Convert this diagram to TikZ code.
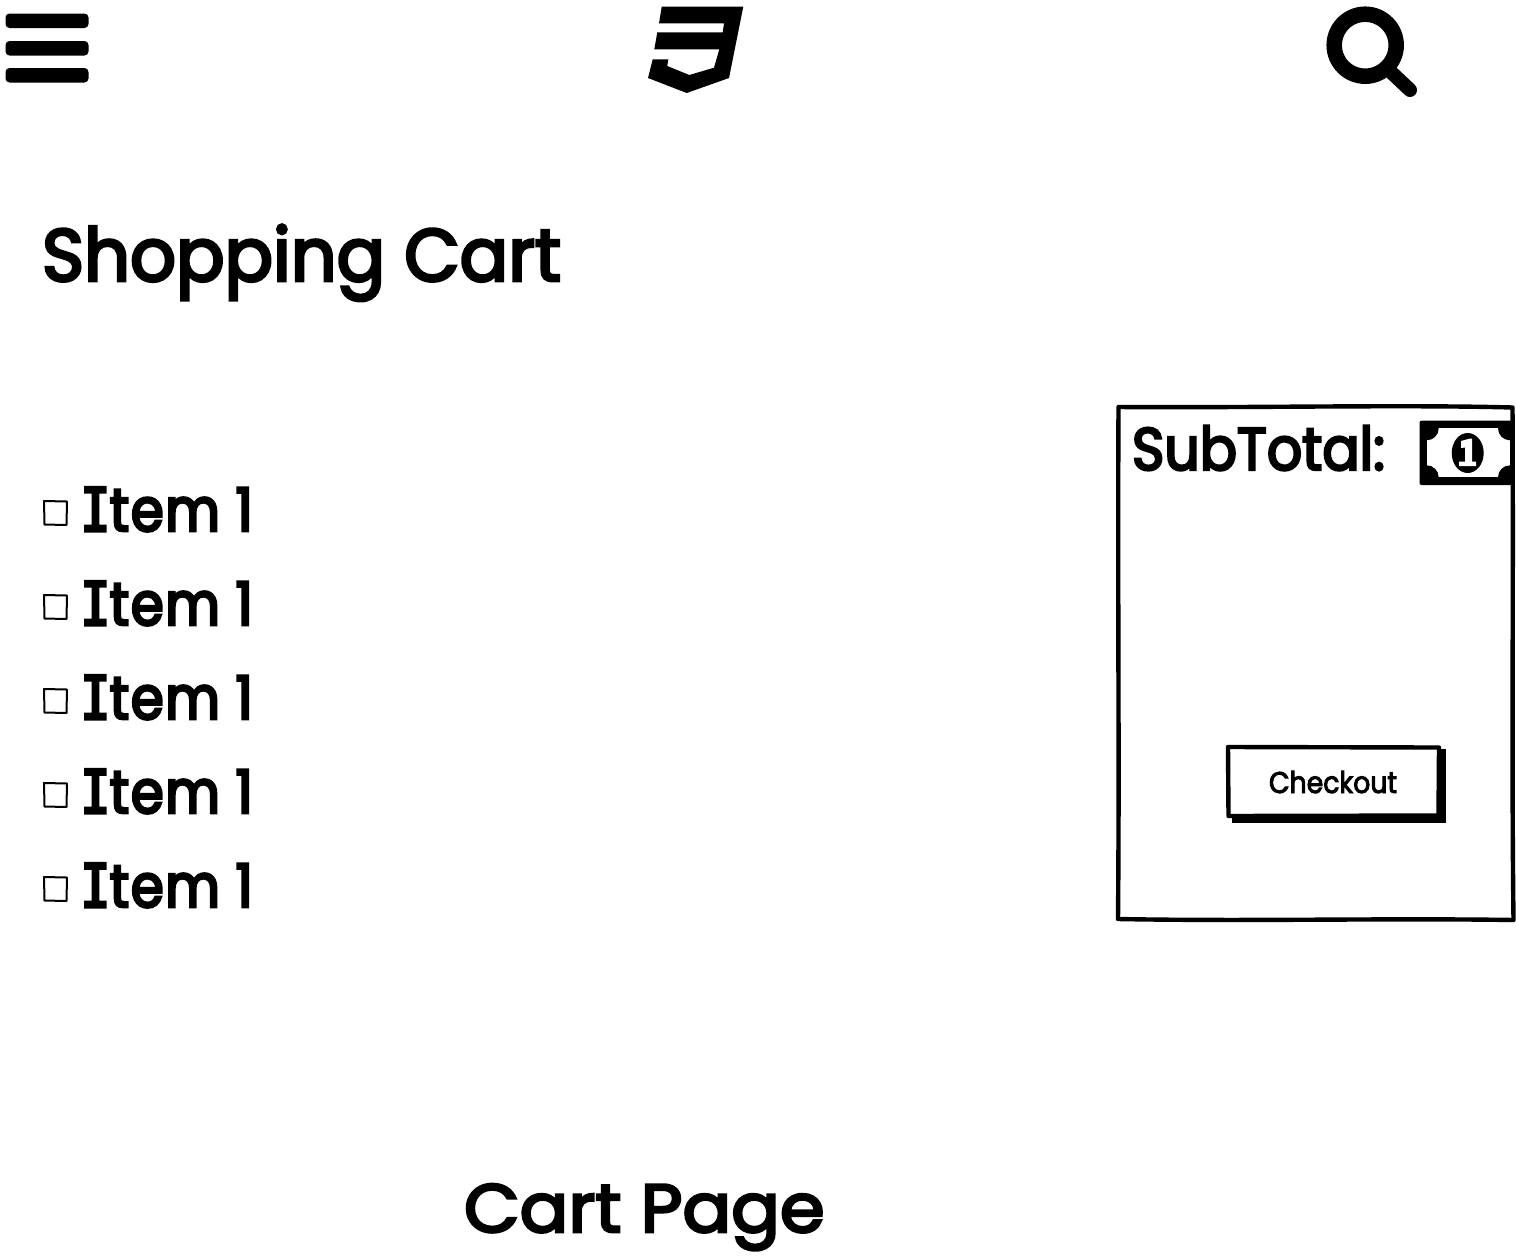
\documentclass[tikz,border=0pt]{standalone}
\usepackage{fontspec}
\setmainfont{Poppins}
\newfontfamily\headfont[FakeBold=4,FakeStretch=0.97]{Poppins}
\newfontfamily\cartfont[FakeBold=4,FakeStretch=1.06]{Poppins}
\newfontfamily\subfont[FakeBold=4,FakeStretch=0.92]{Poppins}
\newfontfamily\itemfont[FakeBold=4.5,FakeStretch=0.88,LetterSpace=3]{Poppins}
\newfontfamily\itemcap[FakeBold=5,FakeStretch=0.8]{DejaVu Sans Mono}
\newfontfamily\smallfont[FakeBold=3,FakeStretch=0.89]{Poppins}
\tikzset{
  label/.style={anchor=base west,inner sep=0pt,outer sep=0pt,text=black},
  cartbox/.style={draw=black,line width=2pt,line join=round,fill=white},
  frameline/.style={draw=black,line width=4.4pt,line join=round},
  solid ink/.style={fill=black,draw=none}
}
\newcommand{\itemtext}{{\itemcap\fontsize{60}{60}\selectfont I}{\itemfont\fontsize{60}{60}\selectfont tem 1}}
\begin{document}
\begin{tikzpicture}[x=1pt,y=-1pt]
\useasboundingbox (0,0) rectangle (1516,1256);
% menu icon
\fill[solid ink,rounded corners=4pt] (5.5,13.5) rectangle (88.5,28);
\fill[solid ink,rounded corners=4pt] (5.5,41) rectangle (88.5,55.5);
\fill[solid ink,rounded corners=4pt] (5.5,68) rectangle (88.5,82.5);
% css icon
\fill[solid ink] (661.7,6.7) -- (743.3,6.7) -- (729,78) -- (686.7,93) -- (648,78) -- (652.7,59.3) -- (668.3,59.3) -- (667.3,66) -- (689.3,75) -- (714,67.7) -- (719.3,49.3) -- (654.3,49.3) -- (657.3,32.3) -- (722.7,32.3) -- (724,23.3) -- (659,23.3) -- cycle;
% search icon
\draw[line width=15.5pt] (1365.2,45.2) circle (31);
\draw[line width=14pt,line cap=round] (1392,73) -- (1410,90);
% headings
\node[label] (title) at (42,281) {\headfont\fontsize{74}{74}\selectfont Shopping Cart};
\node[label] (caption) at (464,1232) {\cartfont\fontsize{68}{68}\selectfont Cart Page};
% items
\foreach \n/\yy in {1/533,2/627,3/721,4/815,5/909}{
  \draw[cartbox] (44,{\yy-32}) -- (67,{\yy-31.5}) -- (66.5,{\yy-8}) -- (44.5,{\yy-8.5}) -- cycle;
  \node[label] (item\n) at (81,{\yy-2}) {\itemtext};
}
% summary box
\draw[frameline] (1118.5,407) .. controls (1250,408) and (1400,404.5) .. (1512.5,407.5)
  .. controls (1513.5,600) and (1511.5,760) .. (1513.5,920)
  .. controls (1380,918) and (1250,921.5) .. (1118,919)
  .. controls (1119.5,750) and (1117.5,600) .. cycle;
\node[label] (subtotal) at (1132,470) {\subfont\fontsize{60}{60}\selectfont SubTotal:};
% money icon
\fill[solid ink,rounded corners=2pt] (1419.5,420.7) rectangle (1512,485);
\fill[white] (1426.7,428.3) rectangle (1510,477.3);
\begin{scope}
  \clip (1426.7,428.3) rectangle (1510,477.3);
  \foreach \cx/\cy in {1426.7/428.3,1510/428.3,1426.7/477.3,1510/477.3}{
    \fill[solid ink] (\cx,\cy) circle (12);
  }
\end{scope}
\fill[solid ink] (1467.7,453) ellipse (16 and 20);
\fill[white] (1461,441) -- (1470,438.5) -- (1472,438.5) -- (1472,461.5) -- (1476,461.5) -- (1476,466) -- (1459,466) -- (1459,461.5) -- (1465,461.5) -- (1465,447.5) -- (1461,448) -- cycle;
% checkout button
\fill[solid ink] (1231.5,749) rectangle (1446,823.3);
\draw[draw=black,fill=white,line width=4.4pt,line join=round] (1228,747) -- (1439,747.5) -- (1438.5,815.5) -- (1228.5,816) -- cycle;
\node[label] (checkout) at (1269,793) {\smallfont\fontsize{30}{30}\selectfont Checkout};
\end{tikzpicture}
\end{document}
